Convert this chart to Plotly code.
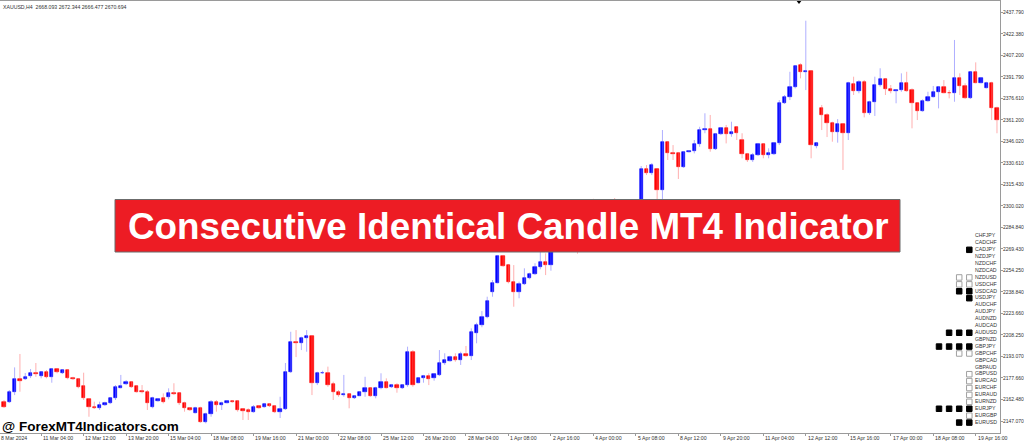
import plotly.graph_objects as go

# XAUUSD H4 candles (bar 0 = 8 Mar 2024)
opens = [
    2160.8, 2160.8, 2167.9, 2176.7, 2176.7, 2179.0, 2181.4, 2179.3, 2182.1, 2178.5,
    2183.8, 2181.0, 2183.3, 2177.4, 2176.7, 2171.9, 2162.5, 2157.2, 2156.1, 2158.4,
    2159.6, 2163.2, 2170.7, 2173.4, 2175.0, 2171.9, 2168.4, 2167.9, 2157.2, 2161.5,
    2163.2, 2163.9, 2167.2, 2166.7, 2159.6, 2156.1, 2153.0, 2156.1, 2146.6, 2152.0,
    2160.8, 2158.4, 2160.1, 2161.5, 2161.3, 2155.4, 2154.9, 2153.7, 2157.7, 2157.2,
    2159.1, 2157.7, 2153.7, 2155.4, 2182.1, 2203.4, 2202.3, 2206.3, 2207.3, 2173.9,
    2181.0, 2181.4, 2173.1, 2167.9, 2165.3, 2166.0, 2163.2, 2165.0, 2167.9, 2170.3,
    2165.0, 2170.3, 2174.6, 2171.0, 2172.6, 2170.3, 2172.6, 2196.3, 2174.3, 2177.4,
    2179.0, 2177.4, 2179.8, 2188.1, 2189.9, 2192.8, 2190.4, 2194.5, 2193.3, 2209.8,
    2215.3, 2221.2, 2239.0, 2245.4, 2264.3, 2257.9, 2246.1, 2239.0, 2244.4, 2248.7,
    2251.3, 2256.3, 2260.3, 2257.9, 2270.0, 2272.9, 2279.0, 2274.5, 2284.2, 2275.8,
    2285.6, 2291.3, 2286.3, 2281.4, 2290.0, 2294.2, 2288.0, 2281.4, 2291.3, 2297.0,
    2293.0, 2326.0, 2323.1, 2326.2, 2311.3, 2345.6, 2337.8, 2337.6, 2327.8, 2338.5,
    2339.2, 2343.9, 2353.9, 2354.6, 2340.2, 2351.1, 2355.1, 2351.1, 2356.2, 2346.8,
    2336.8, 2332.6, 2336.1, 2343.9, 2336.1, 2336.8, 2344.4, 2372.9, 2377.1, 2384.3,
    2400.1, 2395.3, 2396.1, 2342.7, 2369.3, 2364.6, 2358.7, 2352.7, 2358.0, 2351.6,
    2386.6, 2381.8, 2388.2, 2365.8, 2374.0, 2385.9, 2389.9, 2382.8, 2381.8, 2382.3,
    2387.5, 2382.3, 2372.9, 2367.6, 2374.7, 2377.6, 2380.9, 2384.3, 2380.4, 2380.0,
    2391.1, 2385.4, 2376.4, 2394.9, 2387.5, 2384.0, 2387.1, 2369.3,
]
highs = [
    2162.0, 2169.1, 2185.2, 2194.7, 2181.2, 2184.0, 2188.3, 2182.1, 2183.3, 2184.7,
    2184.5, 2183.8, 2183.8, 2178.5, 2177.4, 2181.4, 2163.2, 2160.8, 2160.8, 2160.8,
    2164.1, 2172.6, 2179.8, 2176.2, 2175.5, 2172.6, 2172.6, 2169.1, 2164.3, 2163.4,
    2166.7, 2170.3, 2173.9, 2167.2, 2160.8, 2157.0, 2157.2, 2157.2, 2153.0, 2162.0,
    2162.0, 2160.8, 2162.0, 2162.0, 2162.0, 2156.1, 2156.1, 2158.4, 2158.4, 2159.9,
    2159.6, 2158.4, 2164.3, 2188.3, 2210.5, 2211.7, 2207.0, 2211.7, 2208.2, 2182.1,
    2182.8, 2185.7, 2175.0, 2169.1, 2179.8, 2166.7, 2165.5, 2168.4, 2178.5, 2170.7,
    2171.4, 2181.0, 2177.4, 2173.4, 2173.9, 2173.1, 2199.9, 2197.5, 2178.3, 2179.8,
    2181.0, 2181.0, 2197.5, 2195.2, 2193.5, 2195.2, 2196.3, 2200.4, 2212.9, 2216.9,
    2225.2, 2235.4, 2247.3, 2265.1, 2265.1, 2257.9, 2257.9, 2246.1, 2255.6, 2252.5,
    2259.2, 2267.4, 2266.3, 2271.4, 2275.7, 2281.4, 2281.0, 2286.5, 2287.0, 2289.0,
    2295.5, 2305.0, 2290.0, 2292.5, 2297.0, 2305.5, 2290.5, 2294.0, 2299.2, 2299.9,
    2328.3, 2329.0, 2330.4, 2326.2, 2353.9, 2345.6, 2343.2, 2338.3, 2339.0, 2339.7,
    2346.8, 2356.2, 2365.8, 2364.6, 2351.8, 2356.0, 2357.5, 2359.8, 2356.2, 2351.6,
    2337.6, 2337.6, 2344.7, 2344.4, 2340.9, 2345.4, 2375.2, 2378.8, 2395.3, 2400.1,
    2401.3, 2431.6, 2396.1, 2344.9, 2371.7, 2365.8, 2359.8, 2361.7, 2358.7, 2388.2,
    2391.8, 2389.4, 2389.4, 2374.7, 2391.8, 2397.8, 2390.6, 2385.9, 2382.8, 2394.2,
    2395.3, 2383.5, 2372.9, 2375.7, 2381.1, 2385.2, 2385.2, 2389.4, 2382.3, 2417.9,
    2394.2, 2387.1, 2395.3, 2402.0, 2391.6, 2388.2, 2388.2, 2370.5,
]
lows = [
    2156.3, 2159.9, 2165.5, 2167.9, 2176.2, 2177.6, 2178.5, 2177.4, 2177.4, 2174.3,
    2181.0, 2180.5, 2176.7, 2176.2, 2170.3, 2162.0, 2150.1, 2155.6, 2154.9, 2157.7,
    2159.1, 2162.0, 2170.3, 2172.6, 2170.7, 2167.2, 2166.7, 2154.9, 2156.1, 2160.8,
    2159.6, 2162.5, 2165.5, 2158.4, 2153.7, 2154.2, 2152.5, 2145.9, 2145.4, 2150.1,
    2153.7, 2154.9, 2159.6, 2160.1, 2153.7, 2147.8, 2147.8, 2153.0, 2155.8, 2156.5,
    2157.0, 2152.7, 2149.2, 2154.9, 2181.2, 2192.5, 2197.5, 2196.3, 2165.5, 2172.6,
    2180.5, 2171.4, 2162.0, 2164.3, 2164.3, 2156.1, 2162.7, 2164.8, 2164.3, 2164.3,
    2163.2, 2169.6, 2170.3, 2170.5, 2167.2, 2169.8, 2171.4, 2171.4, 2173.9, 2174.3,
    2172.6, 2175.7, 2179.0, 2186.9, 2189.2, 2189.2, 2186.9, 2192.8, 2190.4, 2202.3,
    2213.7, 2220.1, 2235.4, 2244.9, 2256.7, 2244.9, 2228.3, 2234.3, 2243.7, 2247.8,
    2250.8, 2254.9, 2250.8, 2253.9, 2267.2, 2270.6, 2271.5, 2273.0, 2266.0, 2274.0,
    2283.5, 2282.0, 2275.5, 2279.2, 2287.0, 2282.8, 2278.5, 2275.7, 2288.5, 2290.0,
    2290.5, 2321.9, 2321.9, 2304.1, 2304.1, 2332.6, 2332.6, 2319.1, 2326.9, 2337.9,
    2337.3, 2342.0, 2351.6, 2338.5, 2339.7, 2350.3, 2344.4, 2349.1, 2346.8, 2333.8,
    2331.2, 2331.2, 2335.4, 2333.8, 2333.8, 2336.1, 2343.2, 2372.4, 2375.2, 2383.5,
    2390.6, 2382.3, 2333.8, 2340.9, 2353.9, 2348.9, 2345.6, 2344.9, 2325.5, 2346.8,
    2378.8, 2380.0, 2362.9, 2364.6, 2363.9, 2384.7, 2378.8, 2380.0, 2372.9, 2381.1,
    2381.1, 2355.1, 2361.0, 2366.9, 2374.0, 2377.1, 2369.3, 2380.0, 2376.4, 2374.0,
    2378.8, 2376.0, 2376.0, 2387.1, 2387.1, 2383.5, 2361.0, 2351.6,
]
closes = [
    2157.2, 2167.9, 2176.7, 2175.7, 2178.1, 2181.4, 2180.3, 2181.7, 2178.5, 2183.8,
    2181.7, 2183.3, 2177.4, 2176.7, 2171.4, 2163.2, 2157.2, 2156.3, 2158.4, 2159.6,
    2163.2, 2171.4, 2172.1, 2175.0, 2171.4, 2167.9, 2167.7, 2159.6, 2163.2, 2162.5,
    2160.8, 2166.7, 2166.2, 2159.6, 2156.1, 2154.9, 2156.1, 2146.6, 2152.0, 2160.8,
    2158.4, 2160.1, 2161.5, 2160.8, 2154.9, 2154.4, 2153.7, 2157.2, 2156.5, 2159.1,
    2157.7, 2153.5, 2155.4, 2182.1, 2203.0, 2202.3, 2206.3, 2207.3, 2173.9, 2181.0,
    2181.4, 2172.6, 2167.9, 2165.5, 2166.0, 2163.2, 2165.0, 2167.9, 2170.3, 2165.0,
    2170.3, 2175.0, 2170.7, 2172.6, 2170.3, 2172.6, 2196.3, 2172.6, 2177.8, 2179.0,
    2176.9, 2180.5, 2188.1, 2190.4, 2192.8, 2190.4, 2194.5, 2193.3, 2210.1, 2215.3,
    2221.2, 2232.6, 2244.9, 2264.3, 2257.2, 2246.1, 2239.0, 2244.4, 2248.7, 2251.3,
    2256.3, 2260.3, 2257.9, 2270.0, 2272.9, 2279.0, 2274.5, 2284.2, 2275.8, 2285.6,
    2291.3, 2286.3, 2281.4, 2290.0, 2294.2, 2288.0, 2281.4, 2291.3, 2297.0, 2292.8,
    2326.0, 2323.1, 2329.0, 2311.3, 2345.6, 2337.8, 2336.8, 2327.8, 2338.5, 2339.2,
    2343.9, 2353.9, 2354.6, 2340.2, 2351.1, 2355.1, 2351.1, 2352.7, 2351.6, 2336.8,
    2332.6, 2336.1, 2343.9, 2336.1, 2337.3, 2344.4, 2372.9, 2377.1, 2384.3, 2399.6,
    2395.3, 2396.1, 2343.2, 2344.4, 2364.6, 2358.7, 2352.7, 2358.0, 2351.6, 2387.1,
    2381.8, 2388.2, 2365.8, 2374.0, 2385.9, 2389.9, 2382.8, 2381.8, 2382.3, 2387.5,
    2381.8, 2372.9, 2367.6, 2374.7, 2377.6, 2380.9, 2384.3, 2380.4, 2380.0, 2391.1,
    2385.4, 2376.4, 2394.9, 2387.5, 2390.6, 2387.1, 2369.3, 2361.0,
]

# one date label every 8 bars
date_labels = [
    "8 Mar 2024", "11 Mar 04:00", "12 Mar 12:00", "13 Mar 20:00", "15 Mar 04:00",
    "18 Mar 08:00", "19 Mar 16:00", "21 Mar 00:00", "22 Mar 08:00", "25 Mar 12:00",
    "26 Mar 20:00", "28 Mar 04:00", "1 Apr 08:00", "2 Apr 16:00", "4 Apr 00:00",
    "5 Apr 08:00", "8 Apr 12:00", "9 Apr 20:00", "11 Apr 04:00", "12 Apr 12:00",
    "15 Apr 16:00", "17 Apr 00:00", "18 Apr 08:00", "19 Apr 16:00",
]
price_ticks = [
    2437.790, 2422.380, 2407.200, 2391.790, 2376.610, 2361.200, 2346.020,
    2330.610, 2315.430, 2300.020, 2284.840, 2269.430, 2254.250, 2238.840,
    2223.660, 2208.250, 2193.070, 2177.660, 2162.480, 2147.070,
]

# indicator panel: F = filled square, E = empty square, . = nothing
pairs = [
    "CHFJPY", "CADCHF", "CADJPY", "NZDJPY", "NZDCHF", "NZDCAD", "NZDUSD",
    "USDCHF", "USDCAD", "USDJPY", "AUDCHF", "AUDJPY", "AUDNZD", "AUDCAD",
    "AUDUSD", "GBPNZD", "GBPJPY", "GBPCHF", "GBPCAD", "GBPAUD", "GBPUSD",
    "EURCAD", "EURCHF", "EURAUD", "EURNZD", "EURJPY", "EURGBP", "EURUSD",
]
signals = [
    "....", "....", "...F", "....", "....", "....", "..EE",
    "..EE", "..FF", "...F", "....", "....", "....", "....",
    ".FFF", "....", "FFFF", "..EE", "....", "....", "...E",
    "...E", "...E", "...E", "...E", "FFFF", "...E", "..FF",
]

header = "XAUUSD,H4  2668.093 2672.344 2666.477 2670.694"
banner_text = "Consecutive Identical Candle MT4 Indicator"
watermark = "@ ForexMT4Indicators.com"

# screen geometry (pixels)
PLOT_R, PLOT_T, PLOT_B = 1000, 1, 433
PLOT_H = PLOT_B - PLOT_T
BAR_PX, FIRST_BAR_PX = 5.31, 4
BLUE, RED = "#0000ff", "#ff0000"
AXIS_GRAY = "#9a9a9a"
FONT = "Liberation Sans, Arial, sans-serif"
SMALL = dict(family=FONT, size=5.2, color="#333333")
TICKFONT = dict(family=FONT, size=5.0, color="#333333")

n = len(opens)
idx = list(range(n))
bull = [c >= o for o, c in zip(opens, closes)]


def wick_trace(up, color):
    xs, ys = [], []
    for i in idx:
        if bull[i] == up:
            xs += [i, i, None]
            ys += [lows[i], highs[i], None]
    return go.Scatter(x=xs, y=ys, mode="lines", line=dict(color=color, width=1),
                      hoverinfo="skip", showlegend=False)


fig = go.Figure()
fig.add_trace(wick_trace(True, "rgba(110,110,255,0.55)"))
fig.add_trace(wick_trace(False, "rgba(255,110,110,0.55)"))

body_col = [BLUE if b else RED for b in bull]
fig.add_trace(go.Bar(
    x=idx,
    base=[min(o, c) for o, c in zip(opens, closes)],
    y=[abs(c - o) for o, c in zip(opens, closes)],
    width=0.62,
    marker=dict(color=body_col, line=dict(color=body_col, width=0.6)),
    showlegend=False, hoverinfo="skip",
))

# indicator squares and pair names, on a pixel overlay
col_x = [939 + 10.1 * k for k in range(4)]
row_y = [236 + 6.91 * r for r in range(len(pairs))]
for kind, fill, edge in [("F", "black", "black"), ("E", "white", "#a0a0a0")]:
    xs, ys = [], []
    for r, s in enumerate(signals):
        for k, ch in enumerate(s):
            if ch == kind:
                xs.append(col_x[k])
                ys.append(row_y[r])
    fig.add_trace(go.Scatter(
        x=xs, y=ys, xaxis="x2", yaxis="y2", mode="markers",
        marker=dict(symbol="square", size=5.5, color=fill, line=dict(color=edge, width=1)),
        showlegend=False, hoverinfo="skip",
    ))
fig.add_trace(go.Scatter(
    x=[975] * len(pairs), y=row_y, xaxis="x2", yaxis="y2", mode="text",
    text=pairs, textposition="middle right", textfont=SMALL,
    showlegend=False, hoverinfo="skip", cliponaxis=True,
))
fig.add_trace(go.Scatter(
    x=[799], y=[1.5], xaxis="x2", yaxis="y2", mode="markers",
    marker=dict(symbol="triangle-down", size=5, color="black"),
    showlegend=False, hoverinfo="skip", cliponaxis=False,
))

annotations = [
    dict(x=1, y=7, xref="x2", yref="y2", text=header, showarrow=False,
         xanchor="left", yanchor="middle", font=SMALL),
    dict(x=508, y=226.5, xref="x2", yref="y2", text=banner_text, showarrow=False,
         xanchor="center", yanchor="middle",
         font=dict(family=FONT, size=36.8, color="white", weight="bold")),
    dict(x=0, y=426.5, xref="x2", yref="y2", text=watermark, showarrow=False,
         xanchor="left", yanchor="middle",
         font=dict(family=FONT, size=13.5, color="black", weight="bold")),
]
# labels outside the plot area use paper coordinates (axis-referenced ones get hidden)
for k, lab in enumerate(date_labels):
    annotations.append(dict(x=8 * k, y=-4.5 / PLOT_H, xref="x", yref="paper", text=lab,
                            showarrow=False, xanchor="left", yanchor="middle",
                            xshift=-5.5, font=SMALL))
for v in price_ticks:
    annotations.append(dict(x=1.0, y=v, xref="paper", yref="y", text=f"{v:.3f}",
                            showarrow=False, xanchor="left", yanchor="middle",
                            xshift=2, borderpad=0, font=TICKFONT))

fig.update_layout(
    width=1024, height=442,
    margin=dict(l=0, r=1024 - PLOT_R, t=PLOT_T, b=442 - PLOT_B),
    paper_bgcolor="white", plot_bgcolor="white",
    barmode="overlay", bargap=0, showlegend=False,
    xaxis=dict(
        range=[-FIRST_BAR_PX / BAR_PX, (PLOT_R - FIRST_BAR_PX) / BAR_PX],
        showgrid=False, zeroline=False, showline=True, linecolor=AXIS_GRAY,
        linewidth=1, mirror=True, showticklabels=False,
        tickvals=[8 * k - 1 for k in range(len(date_labels))],
        ticks="outside", ticklen=2, tickcolor=AXIS_GRAY,
    ),
    yaxis=dict(
        range=[2138.54, 2445.61], side="right", showgrid=False, zeroline=False,
        showline=True, linecolor=AXIS_GRAY, linewidth=1,
        tickvals=price_ticks, showticklabels=False,
        ticks="outside", ticklen=2, tickcolor=AXIS_GRAY,
    ),
    xaxis2=dict(overlaying="x", range=[0, PLOT_R], visible=False),
    yaxis2=dict(overlaying="y", range=[PLOT_B, PLOT_T], visible=False),
    shapes=[dict(type="rect", xref="x2", yref="y2", x0=115, x1=900, y0=199.5, y1=252,
                 fillcolor="#ed1c24", line=dict(color="#6b6b6b", width=1), layer="above")],
    annotations=annotations,
)

# the page body has a default 8px margin; drop it so the figure sits at 0,0
fig.write_html("out.html", config={"displayModeBar": False},
               post_script="document.body.style.margin='0';")
